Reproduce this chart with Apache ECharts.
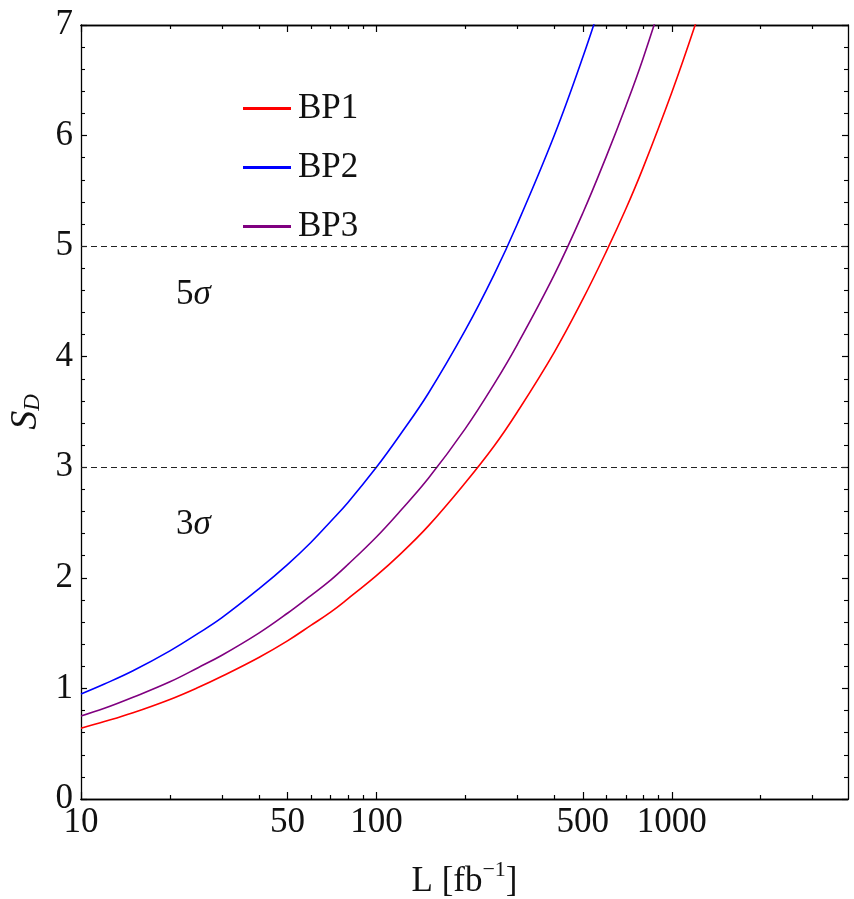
<!DOCTYPE html>
<html>
<head>
<meta charset="utf-8">
<script src="https://cdn.jsdelivr.net/npm/echarts@6/dist/echarts.min.js"></script>
<style>html,body{margin:0;padding:0;background:#fff;}#c{width:854px;height:899px;}</style>
</head>
<body>
<div id="c"></div>
<script>
// Luminosity values L [fb^-1]
const L = [10,12,15,20,25,30,40,50,60,70,80,100,120,150,200,250,300,400,500,600,700,800,1000,1200,1400];
// Significance S_D
const BP1 = [0.64,0.70,0.78,0.90,1.01,1.11,1.28,1.43,1.57,1.69,1.81,2.02,2.21,2.47,2.86,3.19,3.50,4.04,4.52,4.95,5.34,5.71,6.39,7.00,7.56];
const BP2 = [0.95,1.04,1.16,1.34,1.50,1.64,1.90,2.12,2.32,2.51,2.68,3.00,3.29,3.67,4.24,4.74,5.20,6.00,6.71,7.35,null,null,null,null,null];
const BP3 = [0.75,0.82,0.92,1.06,1.19,1.30,1.50,1.68,1.84,1.98,2.12,2.37,2.60,2.90,3.35,3.75,4.11,4.74,5.30,5.81,6.27,6.70,7.50,null,null];
const seriesNames = ['BP1','BP2','BP3'];
const seriesColors = ['#ff0000','#0000ff','#800080'];
const xMajor = [10,50,100,500,1000];
const xMinor = [20,30,40,60,70,80,90,200,300,400,600,700,800,900,2000,3000];
const sigmaLines = [3,5];
const sigmaLabels = [[24,4.56,'5'],[24,2.48,'3']];
const xMin = 10, xMax = 3950, yMin = 0, yMax = 7;

const FONT = '"Liberation Serif", "Times New Roman", Times, serif';
const chart = echarts.init(document.getElementById('c'));
const pairs = arr => L.map((x,i)=> arr[i]==null ? null : [x, arr[i]]).filter(p=>p);
const dataSets = [BP1,BP2,BP3];

function xAx(position, values, len, opts) {
  return Object.assign({
    type:'log', logBase:10, min:xMin, max:xMax, position, gridIndex:0,
    axisLine:{show:true, lineStyle:{color:'#000', width:1.3}},
    axisTick:{show:true, inside:true, length:len, customValues:values, lineStyle:{color:'#000', width:1.2}},
    axisLabel:{show:false, customValues:values},
    splitLine:{show:false}, minorTick:{show:false}, minorSplitLine:{show:false}
  }, opts||{});
}
function yAx(position, showLabel) {
  return {
    type:'value', min:yMin, max:yMax, interval:1, position,
    axisLine:{show:true, lineStyle:{color:'#000', width:1.3}},
    axisTick:{show:true, inside:true, length:6, lineStyle:{color:'#000', width:1.2}},
    minorTick:{show:true, splitNumber:5, length:4, lineStyle:{color:'#000', width:1.1}},
    axisLabel:{show:showLabel, fontFamily:FONT, fontSize:35, color:'#111', margin:8},
    splitLine:{show:false}
  };
}

const option = {
  animation:false,
  backgroundColor:'#fff',
  grid:{left:81, right:6, top:25, bottom:100, containLabel:false, outerBoundsMode:'none'},
  legend:{
    data:seriesNames, orient:'vertical', left:238, top:86,
    icon:'rect', itemWidth:48, itemHeight:3, itemGap:24,
    textStyle:{fontFamily:FONT, fontSize:35, color:'#111', lineHeight:34, padding:[0,0,0,2]}
  },
  xAxis:[
    xAx('bottom', xMajor, 7, {
      axisLabel:{show:true, customValues:xMajor, fontFamily:FONT, fontSize:35, color:'#111', margin:6,
        formatter: v => String(Math.round(v))},
      name:'{n|L [fb}{s|−1}{n|]}', nameLocation:'middle', nameGap:60,
      nameTextStyle:{rich:{
        n:{fontFamily:FONT, fontSize:35, color:'#111', verticalAlign:'bottom', lineHeight:40},
        s:{fontFamily:FONT, fontSize:22, color:'#111', verticalAlign:'top', lineHeight:40, padding:[0,0,14,0]}
      }}
    }),
    xAx('bottom', xMinor, 4),
    xAx('top', xMajor, 7),
    xAx('top', xMinor, 4)
  ],
  yAxis:[
    Object.assign(yAx('left', true), {
      name:'{s|S}{d|D}', nameLocation:'middle', nameGap:32, nameRotate:90,
      nameTextStyle:{rich:{
        s:{fontFamily:FONT, fontSize:38, fontStyle:'italic', color:'#111'},
        d:{fontFamily:FONT, fontSize:23, fontStyle:'italic', color:'#111', padding:[14,0,0,0]}
      }}
    }),
    yAx('right', false)
  ],
  series: seriesNames.map((n,i)=>({
    name:n, type:'line', xAxisIndex:0, yAxisIndex:0,
    data:pairs(dataSets[i]), smooth:0.4, showSymbol:false, symbol:'none', clip:true,
    color:seriesColors[i], lineStyle:{color:seriesColors[i], width:1.6},
    markLine: i===0 ? {
      silent:true, symbol:['none','none'], label:{show:false},
      lineStyle:{color:'#222', type:[6,4], width:1.1},
      data: sigmaLines.map(v=>({yAxis:v}))
    } : undefined
  })).concat([{
    name:'sigma', type:'scatter', symbolSize:0, silent:true,
    itemStyle:{opacity:1},
    data: sigmaLabels.map(s=>({value:[s[0],s[1]], lab:s[2]})),
    label:{show:true, position:'inside', color:'#111', textBorderWidth:0, opacity:1,
      formatter: p => '{n|'+p.data.lab+'}{s|σ}',
      rich:{
        n:{fontFamily:FONT, fontSize:35, color:'#111'},
        s:{fontFamily:FONT, fontSize:35, fontStyle:'italic', color:'#111'}
      }}
  }])
};
chart.setOption(option);
</script>
</body>
</html>
